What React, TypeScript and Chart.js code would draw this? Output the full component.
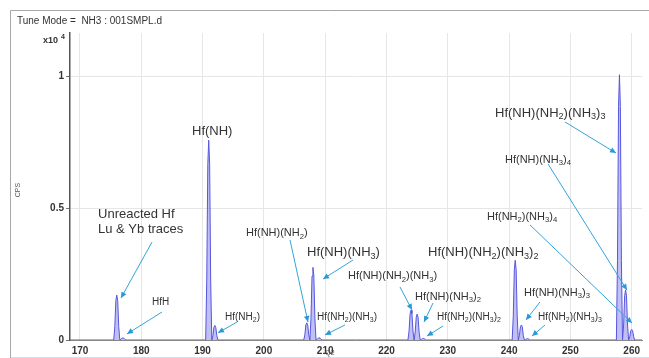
import React, { useEffect, useRef } from 'react';
import { Chart, registerables } from 'chart.js';

Chart.register(...registerables);

// ---- data ----
const xTicks = [170, 180, 190, 200, 210, 220, 230, 240, 250, 260];
const yTicks = [0, 0.5, 1];
const xMin = 168.37;
const xMax = 261.68;
const yMax = 1.163;

// peak m/z (Q2) and intensity (x10^4 CPS)
const peakMz = [176, 177, 191, 192, 207, 208, 209, 224, 225, 226, 241, 242, 243, 258, 259, 260];
const peakCps = [0.17, 0.008, 0.757, 0.055, 0.065, 0.275, 0.008, 0.113, 0.098, 0.006, 0.302, 0.057, 0.005, 1.005, 0.19, 0.04];
// profile template of one peak (offset in m/z, fraction of height)
const profileOffset = [-0.5, -0.32, -0.15, 0, 0.15, 0.32, 0.5];
const profileFraction = [0, 0.3, 0.88, 1, 0.88, 0.3, 0];

// labels: "_d" = subscript digit; positions in data units (m/z, cps)
const labelText = [
  'Unreacted Hf', 'Lu & Yb traces', 'HfH', 'Hf(NH)', 'Hf(NH_2)', 'Hf(NH)(NH_2)', 'Hf(NH)(NH_3)',
  'Hf(NH_2)(NH_3)', 'Hf(NH)(NH_2)(NH_3)', 'Hf(NH)(NH_3)_2', 'Hf(NH_2)(NH_3)_2', 'Hf(NH)(NH_2)(NH_3)_2',
  'Hf(NH)(NH_3)_3', 'Hf(NH_2)(NH_3)_3', 'Hf(NH)(NH_2)(NH_3)_3', 'Hf(NH)(NH_3)_4', 'Hf(NH_2)(NH_3)_4',
];
const labelMz = [172.94, 172.94, 181.75, 188.27, 193.65, 197.08, 207.03, 208.66, 213.72, 224.65, 228.24, 226.77, 242.43, 244.71, 237.7, 239.33, 236.39];
const labelCps = [0.477, 0.42, 0.144, 0.792, 0.087, 0.405, 0.33, 0.087, 0.242, 0.163, 0.087, 0.33, 0.178, 0.087, 0.86, 0.682, 0.466];
const labelSize = [13, 13, 10, 13, 10, 11, 13, 10, 11, 11, 10, 13, 11, 10, 13, 11, 11];

// arrows: [fromMz, fromCps, toMz, toCps]
const arrows = [
  [181.75, 0.371, 176.69, 0.159],
  [183.38, 0.106, 177.67, 0.023],
  [195.61, 0.068, 192.51, 0.027],
  [204.26, 0.379, 207.19, 0.068],
  [214.54, 0.303, 209.64, 0.231],
  [213.23, 0.057, 209.97, 0.019],
  [222.2, 0.201, 224.16, 0.114],
  [227.59, 0.14, 226.12, 0.068],
  [229.22, 0.053, 226.61, 0.015],
  [245.04, 0.144, 242.76, 0.076],
  [245.86, 0.057, 243.74, 0.015],
  [249.12, 0.826, 257.44, 0.708],
  [246.35, 0.667, 259.23, 0.189],
  [243.41, 0.436, 260.05, 0.064],
];

const FONT = '"Liberation Sans", Arial, sans-serif';

function buildProfile() {
  const pts: { x: number; y: number }[] = [{ x: xMin, y: 0 }];
  peakMz.forEach((m, i) => {
    profileOffset.forEach((o, k) => {
      pts.push({ x: m + o, y: peakCps[i] * profileFraction[k] });
    });
  });
  pts.push({ x: xMax, y: 0 });
  return pts;
}

function drawRich(ctx: CanvasRenderingContext2D, text: string, x: number, y: number, size: number) {
  const parts = text.split(/(_\d)/).filter(Boolean);
  let cx = x;
  for (const p of parts) {
    if (p.startsWith('_')) {
      const s = size * 0.7;
      ctx.font = `${s}px ${FONT}`;
      ctx.fillText(p.slice(1), cx, y + size * 0.3);
      cx += ctx.measureText(p.slice(1)).width;
    } else {
      ctx.font = `${size}px ${FONT}`;
      ctx.fillText(p, cx, y);
      cx += ctx.measureText(p).width;
    }
  }
}

function drawArrow(ctx: CanvasRenderingContext2D, x1: number, y1: number, x2: number, y2: number) {
  ctx.beginPath();
  ctx.moveTo(x1, y1);
  ctx.lineTo(x2, y2);
  ctx.stroke();
  const a = Math.atan2(y2 - y1, x2 - x1);
  const L = 6;
  const W = 2.8;
  ctx.beginPath();
  ctx.moveTo(x2, y2);
  ctx.lineTo(x2 - L * Math.cos(a) + W * Math.sin(a), y2 - L * Math.sin(a) - W * Math.cos(a));
  ctx.lineTo(x2 - L * Math.cos(a) - W * Math.sin(a), y2 - L * Math.sin(a) + W * Math.cos(a));
  ctx.closePath();
  ctx.fill();
}

const overlay = {
  id: 'overlay',
  afterDraw(chart: any) {
    const ctx: CanvasRenderingContext2D = chart.ctx;
    const xs = chart.scales.x;
    const ys = chart.scales.y;
    ctx.save();
    // frame
    ctx.strokeStyle = '#a8a8a8';
    ctx.lineWidth = 1;
    ctx.beginPath();
    ctx.moveTo(10.5, 358);
    ctx.lineTo(10.5, 10.5);
    ctx.lineTo(649, 10.5);
    ctx.stroke();
    ctx.strokeStyle = '#cfe0ee';
    ctx.beginPath();
    ctx.moveTo(11, 357.5);
    ctx.lineTo(649, 357.5);
    ctx.stroke();

    ctx.fillStyle = '#333';
    ctx.textBaseline = 'middle';
    ctx.textAlign = 'left';
    ctx.font = `10px ${FONT}`;
    ctx.fillText('Tune Mode =  NH3 : 001SMPL.d', 17, 21);
    ctx.font = `bold 9px ${FONT}`;
    ctx.fillText('x10', 43, 41);
    ctx.font = `bold 7px ${FONT}`;
    ctx.fillText('4', 61, 37);

    ctx.font = `7px ${FONT}`;
    ctx.fillStyle = '#555';
    ctx.textAlign = 'center';
    ctx.fillText('Q2', 330, 353);
    ctx.save();
    ctx.translate(18, 190);
    ctx.rotate(-Math.PI / 2);
    ctx.fillText('CPS', 0, 0);
    ctx.restore();

    // arrows
    ctx.strokeStyle = '#35a2d8';
    ctx.fillStyle = '#2a9ad6';
    ctx.lineWidth = 1;
    arrows.forEach((a) => {
      drawArrow(ctx, xs.getPixelForValue(a[0]), ys.getPixelForValue(a[1]), xs.getPixelForValue(a[2]), ys.getPixelForValue(a[3]));
    });

    // labels
    ctx.fillStyle = '#333';
    ctx.textAlign = 'left';
    labelText.forEach((t, i) => {
      drawRich(ctx, t, xs.getPixelForValue(labelMz[i]), ys.getPixelForValue(labelCps[i]), labelSize[i]);
    });
    ctx.restore();
  },
};

export default function App() {
  const ref = useRef<HTMLCanvasElement>(null);
  useEffect(() => {
    if (!ref.current) return;
    const chart = new Chart(ref.current, {
      type: 'line',
      data: {
        datasets: [
          {
            data: buildProfile(),
            fill: 'origin',
            backgroundColor: 'rgba(150,150,240,0.6)',
            borderColor: '#5656de',
            borderWidth: 1,
            pointRadius: 0,
            tension: 0,
          },
        ],
      },
      options: {
        responsive: false,
        animation: false,
        devicePixelRatio: 1,
        layout: { padding: { left: 0, top: 33, right: 7, bottom: 0 } },
        plugins: { legend: { display: false }, tooltip: { enabled: false }, title: { display: false } },
        scales: {
          x: {
            type: 'linear',
            min: xMin,
            max: xMax,
            afterBuildTicks: (s: any) => {
              s.ticks = xTicks.map((v) => ({ value: v }));
            },
            afterFit: (s: any) => {
              s.height = 18;
            },
            ticks: {
              autoSkip: false,
              maxRotation: 0,
              padding: 1,
              color: '#333',
              font: { size: 10, weight: 'bold', family: FONT },
              callback: (v: any) => String(v),
            },
            grid: { color: '#e6e6e6', tickLength: 4, tickColor: 'rgba(0,0,0,0)' },
            border: { display: true, color: '#888', width: 1 },
          },
          y: {
            type: 'linear',
            min: 0,
            max: yMax,
            afterBuildTicks: (s: any) => {
              s.ticks = yTicks.map((v) => ({ value: v }));
            },
            afterFit: (s: any) => {
              s.width = 70;
            },
            ticks: {
              padding: 2,
              color: '#333',
              font: { size: 10, weight: 'bold', family: FONT },
              callback: (v: any) => String(v),
            },
            grid: { color: '#e6e6e6', tickLength: 4, tickColor: '#777' },
            border: { display: true, color: '#555', width: 1.5 },
          },
        },
      },
      plugins: [overlay],
    } as any);
    return () => chart.destroy();
  }, []);
  return (
    <div style={{ position: 'absolute', left: 0, top: 0, width: 649, height: 358, background: '#fff' }}>
      <canvas ref={ref} width={649} height={358} style={{ display: 'block' }} />
    </div>
  );
}
